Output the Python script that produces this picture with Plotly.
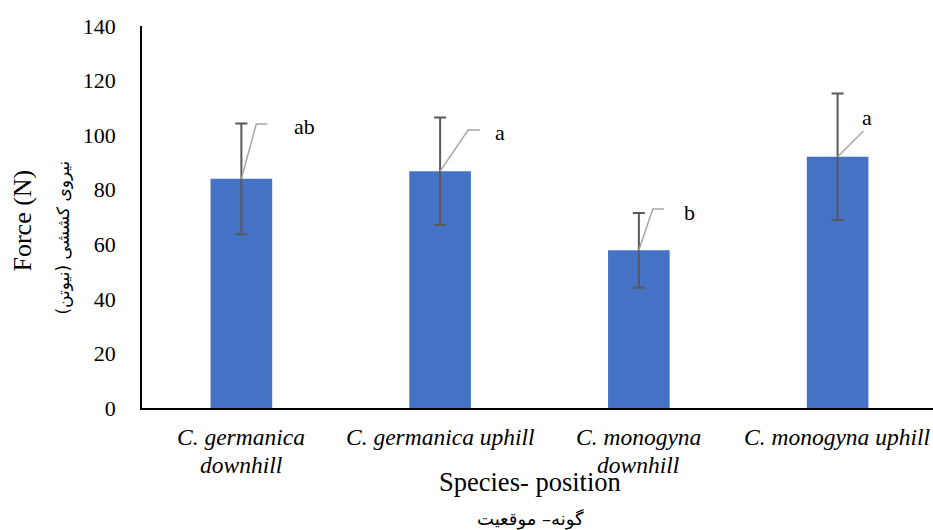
import plotly.graph_objects as go

# ---- data ----
categories = ["C. germanica<br>downhill", "C. germanica uphill",
              "C. monogyna<br>downhill", "C. monogyna uphill"]
force_mean = [84.0, 86.8, 57.8, 92.1]
force_err = [20.3, 19.7, 13.7, 23.2]
letters = ["ab", "a", "b", "a"]
y_ticks = [0, 20, 40, 60, 80, 100, 120, 140]

# ---- label leader geometry (style: offsets relative to each bar) ----
# (dx_mid, y_mid, dx_end, y_end, dx_label, y_label)
leaders = [
    (0.075, 104.1, 0.13, 104.1, 0.317, 103.0),
    (0.141, 101.9, 0.20, 101.9, 0.30, 100.8),
    (0.070, 72.9, 0.126, 72.9, 0.256, 71.8),
    (0.13, 101.5, 0.13, 101.5, 0.15, 106.6),
]

xs = list(range(len(categories)))
SERIF = "Liberation Serif"
FA = "DejaVu Sans"

fig = go.Figure()
fig.add_trace(go.Bar(
    x=xs, y=force_mean, width=0.31,
    marker=dict(color="#4472C4", line=dict(width=0)),
    error_y=dict(type="data", array=force_err, visible=True,
                 color="#595959", thickness=2, width=6),
    hoverinfo="skip", showlegend=False,
))

annotations = []
for i, (m, lab, g) in enumerate(zip(force_mean, letters, leaders)):
    dxm, ym, dxe, ye, dxl, yl = g
    fig.add_trace(go.Scatter(
        x=[i, i + dxm, i + dxe], y=[m, ym, ye], mode="lines",
        line=dict(color="#A6A6A6", width=1.5), hoverinfo="skip", showlegend=False,
    ))
    annotations.append(dict(x=i + dxl, y=yl, xref="x", yref="y", text=lab,
                            showarrow=False, font=dict(family=SERIF, size=22, color="black"),
                            xanchor="center", yanchor="middle"))

# category labels, one annotation per text line (tight line spacing as in reference)
for i, cat in enumerate(categories):
    for k, line in enumerate(cat.split("<br>")):
        annotations.append(dict(x=i, y=0, xref="x", yref="paper", yshift=-29 - 28 * k,
                                text="<i>" + line + "</i>", showarrow=False,
                                xanchor="center", yanchor="middle",
                                font=dict(family=SERIF, size=23.5, color="black")))

# axis titles
annotations += [
    dict(x=0, y=0.4895, xref="paper", yref="paper", xshift=-119.5, text="Force (N)",
         textangle=-90, showarrow=False, xanchor="center", yanchor="middle",
         font=dict(family=SERIF, size=26, color="black")),
    dict(x=0, y=0.445, xref="paper", yref="paper", xshift=-78.5, text="نیروی کششی (نیوتن)",
         textangle=-90, showarrow=False, xanchor="center", yanchor="middle",
         font=dict(family=FA, size=17, color="black")),
    dict(x=0.491, y=0, xref="paper", yref="paper", yshift=-74, text="Species- position",
         showarrow=False, xanchor="center", yanchor="middle",
         font=dict(family=SERIF, size=26.5, color="black")),
    dict(x=0.491, y=0, xref="paper", yref="paper", yshift=-111, text="گونه– موقعیت",
         showarrow=False, xanchor="center", yanchor="middle",
         font=dict(family=FA, size=18, color="black")),
]

fig.update_layout(
    width=933, height=530,
    margin=dict(l=141.5, r=0, t=26, b=122),
    paper_bgcolor="white", plot_bgcolor="white",
    font=dict(family=SERIF, color="black"),
    annotations=annotations,
    xaxis=dict(range=[-0.5, 3.48], tickvals=xs, showticklabels=False,
               showline=True, linecolor="black", linewidth=1.5, ticks="",
               showgrid=False, zeroline=False),
    yaxis=dict(range=[0, 140], tickvals=y_ticks, showline=True, linecolor="black",
               linewidth=1.5, ticks="", showgrid=False, zeroline=False,
               ticklabelstandoff=20,
               tickfont=dict(family=SERIF, size=22, color="black")),
)

fig.write_html("out.html")
